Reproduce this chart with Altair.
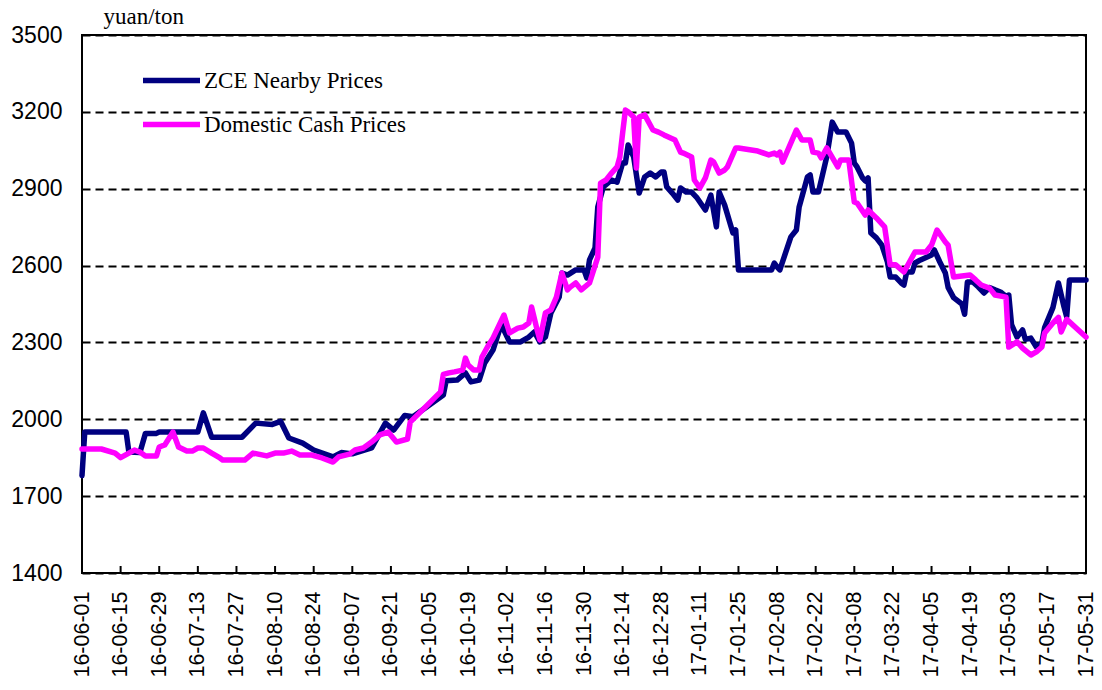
import altair as alt
import pandas as pd

# ---------------- data ----------------
zce_dates = [
    "2016-06-01", "2016-06-02", "2016-06-17", "2016-06-18", "2016-06-22", "2016-06-24",
    "2016-06-28", "2016-06-29", "2016-07-13", "2016-07-15", "2016-07-18", "2016-07-29",
    "2016-08-03", "2016-08-09", "2016-08-12", "2016-08-15", "2016-08-20", "2016-08-24",
    "2016-08-31", "2016-09-03", "2016-09-07", "2016-09-14", "2016-09-19", "2016-09-22",
    "2016-09-26", "2016-09-29", "2016-10-10", "2016-10-11", "2016-10-15", "2016-10-18",
    "2016-10-20", "2016-10-23", "2016-10-25", "2016-10-28", "2016-10-31", "2016-11-03",
    "2016-11-07", "2016-11-10", "2016-11-12", "2016-11-14", "2016-11-16", "2016-11-18",
    "2016-11-21", "2016-11-22", "2016-11-24", "2016-11-27", "2016-11-30", "2016-12-01",
    "2016-12-02", "2016-12-04", "2016-12-05", "2016-12-07", "2016-12-10", "2016-12-12",
    "2016-12-14", "2016-12-15", "2016-12-16", "2016-12-18", "2016-12-20", "2016-12-22",
    "2016-12-24", "2016-12-26", "2016-12-28", "2016-12-29", "2016-12-30", "2017-01-01",
    "2017-01-03", "2017-01-04", "2017-01-06", "2017-01-08", "2017-01-10", "2017-01-13",
    "2017-01-15", "2017-01-17", "2017-01-18", "2017-01-20", "2017-01-23", "2017-01-24",
    "2017-01-25", "2017-02-06", "2017-02-07", "2017-02-08", "2017-02-09", "2017-02-13",
    "2017-02-15", "2017-02-16", "2017-02-19", "2017-02-20", "2017-02-21", "2017-02-23",
    "2017-02-26", "2017-02-28", "2017-03-02", "2017-03-05", "2017-03-07", "2017-03-08",
    "2017-03-09", "2017-03-11", "2017-03-12", "2017-03-13", "2017-03-14", "2017-03-16",
    "2017-03-18", "2017-03-20", "2017-03-21", "2017-03-23", "2017-03-25", "2017-03-26",
    "2017-03-27", "2017-03-29", "2017-03-30", "2017-04-01", "2017-04-05", "2017-04-06",
    "2017-04-08", "2017-04-10", "2017-04-11", "2017-04-13", "2017-04-16", "2017-04-17",
    "2017-04-18", "2017-04-20", "2017-04-22", "2017-04-24", "2017-04-26", "2017-04-28",
    "2017-04-30", "2017-05-02", "2017-05-03", "2017-05-04", "2017-05-06", "2017-05-08",
    "2017-05-09", "2017-05-11", "2017-05-13", "2017-05-15", "2017-05-16", "2017-05-19",
    "2017-05-21", "2017-05-23", "2017-05-24", "2017-05-25", "2017-05-31",
]
zce_values = [
    1780, 1950, 1950, 1872, 1870, 1945,
    1945, 1950, 1950, 2025, 1930, 1930,
    1985, 1980, 1992, 1927, 1907, 1880,
    1853, 1870, 1865, 1888, 1985, 1958,
    2015, 2010, 2095, 2150, 2153, 2181,
    2146, 2153, 2220, 2270, 2370, 2302,
    2302, 2321, 2341, 2302, 2321, 2415,
    2477, 2571, 2563, 2583, 2583, 2552,
    2622, 2669, 2829, 2907, 2934, 2926,
    3000, 3000, 3071, 3024, 2883, 2946,
    2961, 2946, 2965, 2965, 2907, 2883,
    2856, 2903, 2887, 2887, 2864, 2817,
    2875, 2751, 2887, 2836, 2727, 2739,
    2583, 2583, 2610, 2595, 2583, 2712,
    2739, 2829, 2946, 2954, 2887, 2887,
    3024, 3160, 3121, 3121, 3078, 3000,
    2985, 2942, 2930, 2942, 2727, 2708,
    2680, 2614, 2555, 2555, 2532, 2524,
    2575, 2575, 2610, 2622, 2641, 2661,
    2614, 2571, 2515, 2475, 2450, 2410,
    2536, 2536, 2516, 2493, 2514, 2505,
    2497, 2480, 2485, 2370, 2321, 2349,
    2312, 2317, 2282, 2298, 2358, 2436,
    2532, 2440, 2400, 2544, 2544,
]

cash_dates = [
    "2016-06-01", "2016-06-08", "2016-06-13", "2016-06-15", "2016-06-20", "2016-06-22",
    "2016-06-24", "2016-06-28", "2016-06-29", "2016-07-01", "2016-07-04", "2016-07-06",
    "2016-07-09", "2016-07-11", "2016-07-13", "2016-07-15", "2016-07-18", "2016-07-21",
    "2016-07-22", "2016-07-30", "2016-08-02", "2016-08-07", "2016-08-10", "2016-08-13",
    "2016-08-16", "2016-08-19", "2016-08-23", "2016-08-27", "2016-08-31", "2016-09-02",
    "2016-09-06", "2016-09-08", "2016-09-11", "2016-09-14", "2016-09-17", "2016-09-20",
    "2016-09-23", "2016-09-27", "2016-09-28", "2016-10-09", "2016-10-10", "2016-10-12",
    "2016-10-14", "2016-10-17", "2016-10-18", "2016-10-19", "2016-10-21", "2016-10-23",
    "2016-10-24", "2016-10-26", "2016-10-28", "2016-11-01", "2016-11-03", "2016-11-06",
    "2016-11-08", "2016-11-10", "2016-11-11", "2016-11-13", "2016-11-14", "2016-11-16",
    "2016-11-18", "2016-11-20", "2016-11-22", "2016-11-24", "2016-11-25", "2016-11-27",
    "2016-11-29", "2016-12-02", "2016-12-05", "2016-12-06", "2016-12-08", "2016-12-10",
    "2016-12-12", "2016-12-13", "2016-12-14", "2016-12-15", "2016-12-16", "2016-12-18",
    "2016-12-19", "2016-12-20", "2016-12-22", "2016-12-25", "2016-12-27", "2016-12-29",
    "2017-01-02", "2017-01-04", "2017-01-05", "2017-01-08", "2017-01-09", "2017-01-11",
    "2017-01-13", "2017-01-15", "2017-01-16", "2017-01-18", "2017-01-20", "2017-01-21",
    "2017-01-24", "2017-01-25", "2017-02-01", "2017-02-05", "2017-02-07", "2017-02-08",
    "2017-02-09", "2017-02-10", "2017-02-15", "2017-02-17", "2017-02-20", "2017-02-21",
    "2017-02-23", "2017-02-24", "2017-02-26", "2017-03-02", "2017-03-03", "2017-03-06",
    "2017-03-08", "2017-03-09", "2017-03-12", "2017-03-13", "2017-03-16", "2017-03-19",
    "2017-03-21", "2017-03-23", "2017-03-26", "2017-03-28", "2017-03-30", "2017-04-03",
    "2017-04-05", "2017-04-07", "2017-04-10", "2017-04-11", "2017-04-13", "2017-04-19",
    "2017-04-21", "2017-04-23", "2017-04-26", "2017-04-28", "2017-05-02", "2017-05-03",
    "2017-05-06", "2017-05-08", "2017-05-11", "2017-05-13", "2017-05-15", "2017-05-16",
    "2017-05-19", "2017-05-21", "2017-05-22", "2017-05-24", "2017-05-31",
]
cash_values = [
    1884, 1884, 1868, 1850, 1880, 1872,
    1857, 1857, 1892, 1900, 1950, 1892,
    1876, 1876, 1888, 1888, 1868, 1849,
    1841, 1841, 1868, 1857, 1868, 1868,
    1876, 1861, 1861, 1849, 1833, 1853,
    1864, 1880, 1888, 1911, 1939, 1950,
    1911, 1923, 1989, 2107, 2175, 2181,
    2185, 2192, 2239, 2212, 2192, 2192,
    2243, 2282, 2317, 2407, 2337, 2356,
    2360, 2376, 2438, 2349, 2310, 2415,
    2427, 2477, 2571, 2505, 2516, 2532,
    2505, 2532, 2633, 2922, 2934, 2961,
    2985, 3024, 3117, 3207, 3200, 3180,
    2981, 3180, 3188, 3129, 3121, 3110,
    3090, 3043, 3039, 3024, 2934, 2903,
    2942, 3012, 3004, 2961, 2973, 2985,
    3059, 3059, 3047, 3032, 3039, 3032,
    3043, 3004, 3129, 3090, 3090, 3043,
    3039, 3020, 3059, 2985, 3012, 3012,
    2848, 2844, 2797, 2817, 2786, 2751,
    2603, 2603, 2575, 2614, 2653, 2653,
    2680, 2739, 2692, 2680, 2555, 2563,
    2544, 2524, 2512, 2485, 2477, 2282,
    2302, 2278, 2251, 2263, 2282, 2337,
    2376, 2398, 2341, 2390, 2321,
]

series_names = ["ZCE Nearby Prices", "Domestic Cash Prices"]
series_colors = ["#000080", "#FF00FF"]

tick_dates = [
    "2016-06-01", "2016-06-15", "2016-06-29", "2016-07-13", "2016-07-27", "2016-08-10",
    "2016-08-24", "2016-09-07", "2016-09-21", "2016-10-05", "2016-10-19", "2016-11-02",
    "2016-11-16", "2016-11-30", "2016-12-14", "2016-12-28", "2017-01-11", "2017-01-25",
    "2017-02-08", "2017-02-22", "2017-03-08", "2017-03-22", "2017-04-05", "2017-04-19",
    "2017-05-03", "2017-05-17", "2017-05-31",
]
y_ticks = [1400, 1700, 2000, 2300, 2600, 2900, 3200, 3500]
y_title = "yuan/ton"

# ---------------- tables ----------------
def local(d):
    return d + "T00:00:00"

def dt(d):
    y, m, dd = (int(p) for p in d.split("-"))
    return alt.DateTime(year=y, month=m, date=dd)

df = pd.concat([
    pd.DataFrame({"date": [local(d) for d in zce_dates], "value": zce_values,
                  "series": series_names[0]}),
    pd.DataFrame({"date": [local(d) for d in cash_dates], "value": cash_values,
                  "series": series_names[1]}),
], ignore_index=True)
ticks_df = pd.DataFrame({"date": [local(d) for d in tick_dates]})

W, H = 1004, 538

x_scale = alt.Scale(domain=[dt(tick_dates[0]), dt(tick_dates[-1])], nice=False)
y_scale = alt.Scale(domain=[y_ticks[0], y_ticks[-1]], nice=False, zero=False)
color_scale = alt.Scale(domain=series_names, range=series_colors)

x_axis = alt.Axis(
    values=[dt(d) for d in tick_dates], format="%y-%m-%d", labelAngle=270,
    labelFont="Liberation Sans", labelFontSize=21.5, labelColor="black",
    labelPadding=18, ticks=False, tickSize=0, domain=False, grid=False,
    title=None, labelOverlap=False, labelFlush=False, labelBound=False,
)
y_axis = alt.Axis(
    values=y_ticks, format="d", labelFont="Liberation Sans", labelFontSize=23,
    labelColor="black", labelPadding=20, ticks=False, tickSize=0, domain=False,
    grid=True, gridColor="black", gridDash=[8, 5], gridWidth=2, gridOpacity=1,
    title=y_title, titleAngle=0, titleX=21, titleY=-12, titleAlign="left",
    titleBaseline="alphabetic", titleFont="Liberation Serif", titleFontSize=23,
    titleFontWeight="normal", titleColor="black", labelFlush=False,
    labelOverlap=False,
)

legend = alt.Legend(
    title=None, orient="none", legendX=58, legendY=14, direction="vertical",
    symbolType="stroke", symbolSize=3249, symbolStrokeWidth=5.5,
    labelFont="Liberation Serif", labelFontSize=23, labelColor="black",
    labelOffset=1, rowPadding=-7, labelLimit=400, padding=0,
)

base = alt.Chart(df)

zce_line = base.transform_filter(alt.datum.series == series_names[0]).mark_line(
    strokeWidth=5.5, strokeJoin="round", strokeCap="round"
).encode(
    x=alt.X("date:T", scale=x_scale, axis=x_axis),
    y=alt.Y("value:Q", scale=y_scale, axis=y_axis),
    color=alt.Color("series:N", scale=color_scale, legend=legend),
)

cash_line = base.transform_filter(alt.datum.series == series_names[1]).mark_line(
    strokeWidth=5.5, strokeJoin="round", strokeCap="round"
).encode(
    x=alt.X("date:T", scale=x_scale, axis=x_axis),
    y=alt.Y("value:Q", scale=y_scale, axis=y_axis),
    color=alt.Color("series:N", scale=color_scale, legend=legend),
)

tick_marks = alt.Chart(ticks_df).mark_rule(color="black", strokeWidth=2).encode(
    x=alt.X("date:T", scale=x_scale, axis=x_axis),
    y=alt.value(H - 7),
    y2=alt.value(H),
)

chart = alt.layer(zce_line, cash_line, tick_marks).properties(
    width=W, height=H,
    autosize=alt.AutoSizeParams(type="none"),
    padding={"left": 74, "top": 27, "right": 8, "bottom": 105},
    background="white",
).configure_view(
    stroke="black", strokeWidth=2,
)

chart.save("out.html", embed_options={"renderer": "svg", "actions": False})
